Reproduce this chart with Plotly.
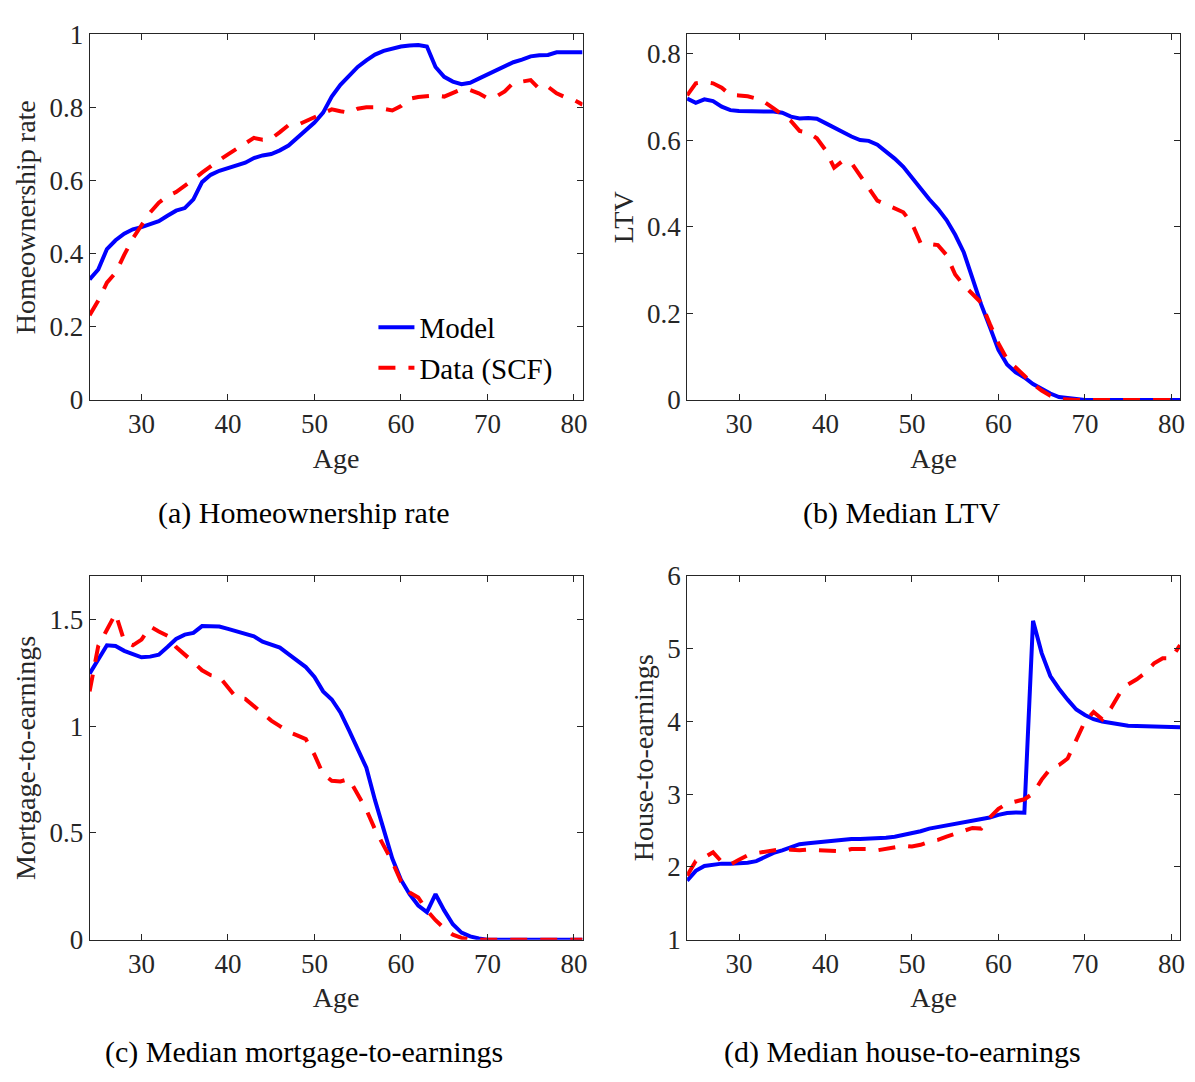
import plotly.graph_objects as go

W, H = 1195, 1082

ages = [24, 25, 26, 27, 28, 29, 30, 31, 32, 33, 34, 35, 36, 37, 38, 39, 40, 41, 42, 43,
        44, 45, 46, 47, 48, 49, 50, 51, 52, 53, 54, 55, 56, 57, 58, 59, 60, 61, 62, 63,
        64, 65, 66, 67, 68, 69, 70, 71, 72, 73, 74, 75, 76, 77, 78, 79, 80, 81]

# (a) Homeownership rate
own_model = [0.330, 0.357, 0.413, 0.437, 0.455, 0.467, 0.473, 0.482, 0.489, 0.504,
             0.518, 0.525, 0.549, 0.596, 0.616, 0.627, 0.634, 0.640, 0.649, 0.662,
             0.669, 0.673, 0.683, 0.696, 0.717, 0.741, 0.759, 0.786, 0.830, 0.862,
             0.888, 0.911, 0.929, 0.945, 0.955, 0.962, 0.967, 0.970, 0.971, 0.967,
             0.911, 0.884, 0.871, 0.864, 0.868, 0.879, 0.891, 0.902, 0.915, 0.924,
             0.931, 0.940, 0.943, 0.944, 0.951, 0.951, 0.951, 0.951]
own_data = [0.232, 0.272, 0.321, 0.348, 0.397, 0.442, 0.478, 0.513, 0.540, 0.558,
            0.569, 0.585, 0.603, 0.622, 0.640, 0.656, 0.672, 0.688, 0.703, 0.717,
            0.712, 0.715, 0.733, 0.752, 0.752, 0.763, 0.774, 0.786, 0.795, 0.790,
            0.786, 0.797, 0.801, 0.801, 0.796, 0.792, 0.804, 0.824, 0.829, 0.830,
            0.833, 0.830, 0.839, 0.850, 0.848, 0.839, 0.826, 0.830, 0.844, 0.868,
            0.871, 0.875, 0.851, 0.857, 0.839, 0.828, 0.821, 0.808]

# (b) Median LTV
ltv_model = [0.697, 0.687, 0.695, 0.691, 0.678, 0.670, 0.668, 0.667, 0.667, 0.667,
             0.667, 0.664, 0.655, 0.651, 0.652, 0.650, 0.640, 0.629, 0.618, 0.609,
             0.601, 0.599, 0.590, 0.575, 0.558, 0.539, 0.513, 0.487, 0.464, 0.442,
             0.416, 0.382, 0.341, 0.281, 0.221, 0.169, 0.116, 0.082, 0.064, 0.052,
             0.037, 0.026, 0.015, 0.007, 0.004, 0.0015, 0.0, 0.0, 0.0, 0.0,
             0.0, 0.0, 0.0, 0.0, 0.0, 0.0, 0.0, 0.0]
ltv_data = [0.704, 0.732, 0.735, 0.732, 0.722, 0.705, 0.704, 0.702, 0.697, 0.688,
            0.674, 0.660, 0.645, 0.622, 0.618, 0.605, 0.578, 0.537, 0.553, 0.548,
            0.520, 0.490, 0.461, 0.452, 0.442, 0.434, 0.408, 0.363, 0.361, 0.358,
            0.335, 0.290, 0.265, 0.245, 0.225, 0.176, 0.131, 0.094, 0.075, 0.056,
            0.037, 0.022, 0.010, 0.002, 0.0, 0.0, 0.0, 0.0, 0.0, 0.0,
            0.0, 0.0, 0.0, 0.0, 0.0, 0.0, 0.0, 0.0]

# (c) Median mortgage-to-earnings
mte_model = [1.247, 1.316, 1.380, 1.377, 1.354, 1.339, 1.324, 1.327, 1.336, 1.372,
             1.410, 1.430, 1.438, 1.470, 1.471, 1.468, 1.457, 1.445, 1.433, 1.422,
             1.397, 1.381, 1.369, 1.339, 1.308, 1.278, 1.232, 1.164, 1.126, 1.065,
             0.981, 0.898, 0.806, 0.654, 0.517, 0.380, 0.281, 0.213, 0.160, 0.129,
             0.213, 0.137, 0.072, 0.033, 0.015, 0.005, 0.0, 0.0, 0.0, 0.0,
             0.0, 0.0, 0.0, 0.0, 0.0, 0.0, 0.0, 0.0]
mte_data = [1.164, 1.377, 1.453, 1.529, 1.400, 1.380, 1.407, 1.468, 1.445, 1.425,
            1.372, 1.339, 1.301, 1.263, 1.240, 1.232, 1.179, 1.133, 1.129, 1.095,
            1.065, 1.027, 1.001, 0.974, 0.958, 0.940, 0.867, 0.776, 0.745, 0.742,
            0.753, 0.685, 0.609, 0.517, 0.441, 0.365, 0.274, 0.221, 0.198, 0.137,
            0.091, 0.053, 0.023, 0.008, 0.0, 0.0, 0.0, 0.0, 0.0, 0.0,
            0.0, 0.0, 0.0, 0.0, 0.0, 0.0, 0.0, 0.0]

# (d) Median house-to-earnings
hte_model = [1.810, 1.946, 2.013, 2.036, 2.045, 2.045, 2.045, 2.058, 2.080, 2.134,
             2.192, 2.228, 2.268, 2.313, 2.326, 2.339, 2.348, 2.362, 2.371, 2.384,
             2.384, 2.388, 2.397, 2.402, 2.415, 2.438, 2.460, 2.491, 2.527, 2.549,
             2.562, 2.589, 2.607, 2.629, 2.661, 2.680, 2.715, 2.740, 2.748, 2.745,
             5.384, 4.940, 4.625, 4.450, 4.300, 4.165, 4.089, 4.031, 4.000, 3.978,
             3.955, 3.942, 3.938, 3.933, 3.924, 3.924, 3.920, 3.920]
hte_data = [1.880, 2.080, 2.130, 2.200, 2.070, 2.030, 2.100, 2.160, 2.190, 2.210,
            2.237, 2.246, 2.237, 2.228, 2.237, 2.228, 2.223, 2.223, 2.214, 2.246,
            2.250, 2.246, 2.228, 2.246, 2.268, 2.290, 2.281, 2.304, 2.348, 2.371,
            2.415, 2.460, 2.504, 2.536, 2.527, 2.680, 2.800, 2.870, 2.900, 2.930,
            3.010, 3.200, 3.350, 3.400, 3.490, 3.730, 4.000, 4.130, 4.030, 4.180,
            4.380, 4.510, 4.580, 4.670, 4.800, 4.870, 4.870, 5.050]

x_ticks = [30, 40, 50, 60, 70, 80]
panels = [
    dict(model=own_model, data=own_data, ylab="Homeownership rate", yrange=[0, 1.0],
         yticks=[0, 0.2, 0.4, 0.6, 0.8, 1], yticktext=["0", "0.2", "0.4", "0.6", "0.8", "1"],
         caption="(a) Homeownership rate"),
    dict(model=ltv_model, data=ltv_data, ylab="LTV", yrange=[0, 0.845],
         yticks=[0, 0.2, 0.4, 0.6, 0.8], yticktext=["0", "0.2", "0.4", "0.6", "0.8"],
         caption="(b) Median LTV"),
    dict(model=mte_model, data=mte_data, ylab="Mortgage-to-earnings", yrange=[0, 1.705],
         yticks=[0, 0.5, 1, 1.5], yticktext=["0", "0.5", "1", "1.5"],
         caption="(c) Median mortgage-to-earnings"),
    dict(model=hte_model, data=hte_data, ylab="House-to-earnings", yrange=[1, 6],
         yticks=[1, 2, 3, 4, 5, 6], yticktext=["1", "2", "3", "4", "5", "6"],
         caption="(d) Median house-to-earnings"),
]

# pixel geometry of the four axes boxes
xdom_px = [(90, 585), (690, 1185), (90, 585), (690, 1185)]
ydom_px = [(20, 396), (20, 396), (577, 951), (577, 951)]
cap_pos = [(305, 512), (906, 512), (305, 1067), (906, 1067)]

FONT = "'Liberation Serif', 'Times New Roman', Times, serif"
AX_COL = "#262626"

fig = go.Figure()
layout = dict(
    width=W, height=H, margin=dict(l=0, r=0, t=0, b=0),
    paper_bgcolor="white", plot_bgcolor="white",
    font=dict(family=FONT, size=27, color=AX_COL),
    showlegend=True,
    legend=dict(x=375 / W, y=1 - 295 / H, xanchor="left", yanchor="top",
                bgcolor="rgba(0,0,0,0)", font=dict(family=FONT, size=29, color="black"),
                itemwidth=36, tracegroupgap=0),
    annotations=[],
)

for i, p in enumerate(panels):
    n = "" if i == 0 else str(i + 1)
    xa, ya = "x" + n, "y" + n
    fig.add_trace(go.Scatter(x=ages, y=p["model"], mode="lines", name="Model",
                             line=dict(color="#0000FF", width=4),
                             xaxis=xa, yaxis=ya, showlegend=(i == 0)))
    fig.add_trace(go.Scatter(x=ages, y=p["data"], mode="lines", name="Data (SCF)",
                             line=dict(color="#FF0000", width=4, dash="17px,13px"),
                             xaxis=xa, yaxis=ya, showlegend=(i == 0)))
    x0, x1 = xdom_px[i]
    y0, y1 = ydom_px[i]
    layout["xaxis" + n] = dict(
        domain=[x0 / W, x1 / W], anchor=ya, range=[24, 81],
        tickvals=x_ticks, ticktext=[str(v) for v in x_ticks],
        ticks="inside", ticklen=6, tickcolor=AX_COL, tickwidth=1,
        showline=True, linecolor=AX_COL, linewidth=1, mirror="ticks",
        showgrid=False, zeroline=False,
        tickfont=dict(family=FONT, size=27, color=AX_COL),
        title=dict(text="Age", font=dict(family=FONT, size=28, color=AX_COL), standoff=9),
    )
    layout["yaxis" + n] = dict(
        domain=[1 - y1 / H, 1 - y0 / H], anchor=xa, range=p["yrange"],
        tickvals=p["yticks"], ticktext=p["yticktext"],
        ticks="inside", ticklen=6, tickcolor=AX_COL, tickwidth=1,
        showline=True, linecolor=AX_COL, linewidth=1, mirror="ticks",
        showgrid=False, zeroline=False,
        tickfont=dict(family=FONT, size=27, color=AX_COL),
        title=dict(text=p["ylab"], font=dict(family=FONT, size=28, color=AX_COL), standoff=5),
    )
    cx, cy = cap_pos[i]
    layout["annotations"].append(dict(
        text=p["caption"], x=cx / W, y=1 - cy / H, xref="paper", yref="paper",
        xanchor="center", yanchor="middle", showarrow=False,
        font=dict(family=FONT, size=30, color="black")))

fig.update_layout(**layout)
fig.write_html("out.html")
